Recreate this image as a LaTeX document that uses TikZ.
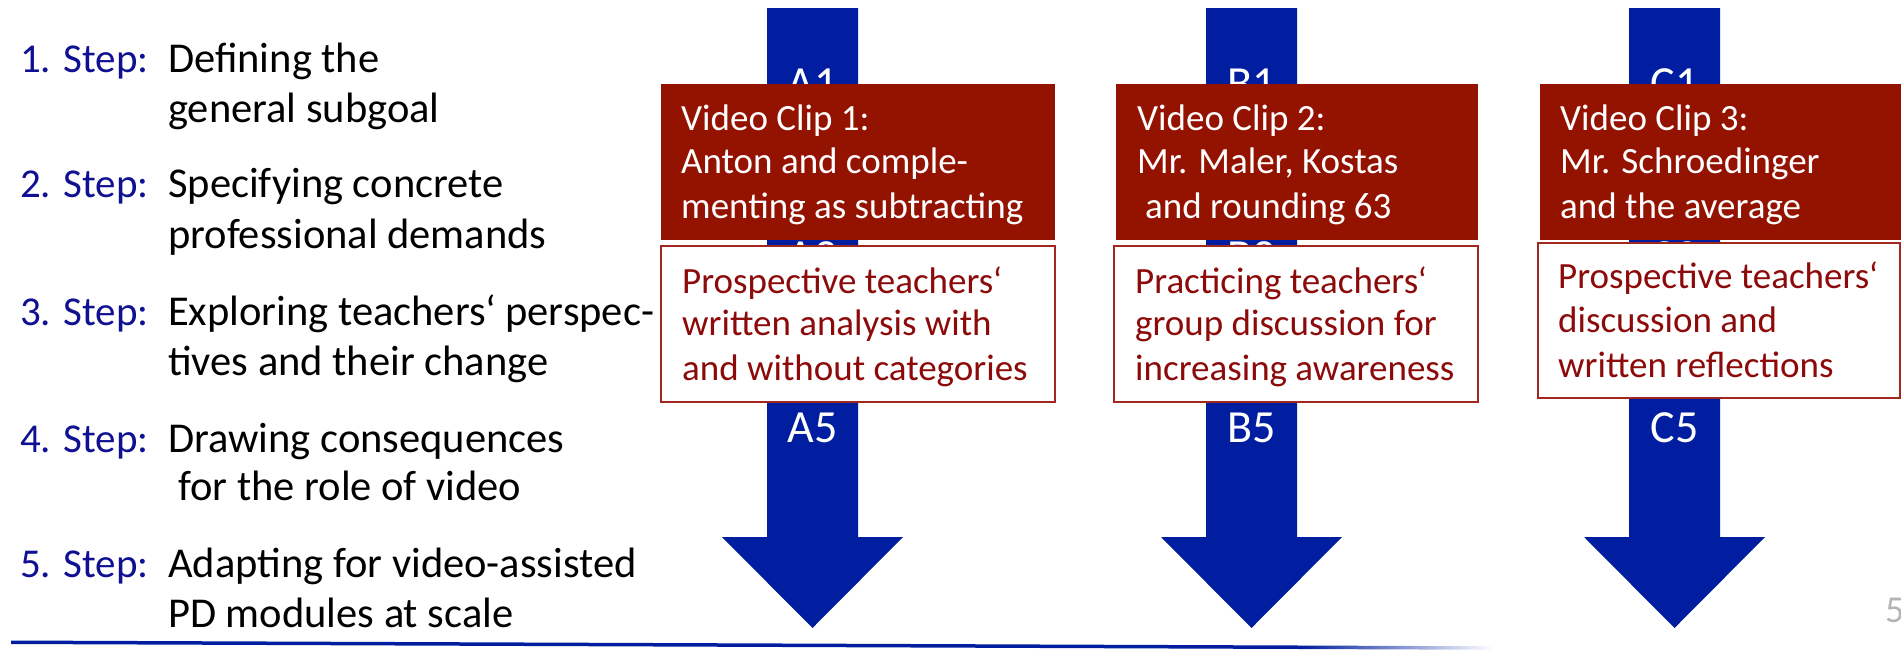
\documentclass[tikz,border=0pt]{standalone}
\usepackage{fontspec}
\setmainfont{Carlito}
\definecolor{arrowblue}{HTML}{001E9F}
\definecolor{stepblue}{HTML}{101092}
\definecolor{clipred}{HTML}{941200}
\definecolor{taskred}{HTML}{8C0A0A}
\definecolor{taskframe}{HTML}{A0281E}
\definecolor{pagegrey}{HTML}{B4B4B4}
\begin{document}
\begin{tikzpicture}[x=1pt,y=-1pt,
  steplabel/.style={anchor=base west,inner sep=0pt,text=stepblue,font=\fontsize{41}{50}\selectfont},
  steptext/.style={anchor=base west,inner sep=0pt,text=black,font=\fontsize{42.5}{50}\selectfont},
  arrowlabel/.style={anchor=base,inner sep=0pt,text=white,font=\fontsize{46}{56}\selectfont},
  clipbox/.style={fill=clipred,draw=none,inner sep=0pt},
  taskbox/.style={fill=white,draw=taskframe,line width=2pt,inner sep=0pt},
  cliptext/.style={anchor=base west,inner sep=0pt,text=white,font=\fontsize{37}{44}\selectfont},
  tasktext/.style={anchor=base west,inner sep=0pt,text=taskred,font=\fontsize{37}{44}\selectfont},
]
\useasboundingbox (0,0) rectangle (1901,651);

% the five steps
\node[steplabel] (s1) at (20,72)  {1. Step:};
\node[steptext]  (t1a) at (168,72)  {Defining the};
\node[steptext]  (t1b) at (168,122) {general subgoal};
\node[steplabel] (s2) at (20,197) {2. Step:};
\node[steptext]  (t2a) at (168,197) {Specifying concrete};
\node[steptext]  (t2b) at (168,248) {professional demands};
\node[steplabel] (s3) at (20,325) {3. Step:};
\node[steptext]  (t3a) at (168,325) {Exploring teachers‘ perspec-};
\node[steptext]  (t3b) at (168,375) {tives and their change};
\node[steplabel] (s4) at (20,452) {4. Step:};
\node[steptext]  (t4a) at (168,452) {Drawing consequences};
\node[steptext]  (t4b) at (178,500) {for the role of video};
\node[steplabel] (s5) at (20,577) {5. Step:};
\node[steptext]  (t5a) at (168,577) {Adapting for video-assisted};
\node[steptext]  (t5b) at (168,627) {PD modules at scale};

% three downward block arrows with their step labels
\foreach \c/\n in {812.5/A,1251.5/B,1674.5/C}{
  \fill[arrowblue] (\c-45.5,8) -- (\c+45.5,8) -- (\c+45.5,537) -- (\c+90.5,537)
    -- (\c,628) -- (\c-90.5,537) -- (\c-45.5,537) -- cycle;
  \node[arrowlabel] (\n1) at (\c,98)  {\n1};
  \node[arrowlabel] (\n2) at (\c,271) {\n2};
  \node[arrowlabel] (\n5) at (\c,442) {\n5};
}

% video clip boxes
\node[clipbox,minimum width=394,minimum height=156] (clipA) at (858,162) {};
\node[clipbox,minimum width=362,minimum height=156] (clipB) at (1297,162) {};
\node[clipbox,minimum width=361,minimum height=156] (clipC) at (1720.5,162) {};

% task boxes
\node[taskbox,minimum width=394,minimum height=156] (taskA) at (858,324) {};
\node[taskbox,minimum width=364,minimum height=156] (taskB) at (1296,324) {};
\node[taskbox,minimum width=362,minimum height=155] (taskC) at (1719,320.5) {};

% clip texts
\node[cliptext] (ca1) at (681,130) {Video Clip 1:};
\node[cliptext] (ca2) at (681,173) {Anton and comple-};
\node[cliptext] (ca3) at (681,218) {menting as subtracting};
\node[cliptext] (cb1) at (1137,130) {Video Clip 2:};
\node[cliptext] (cb2) at (1137,173) {Mr. Maler, Kostas};
\node[cliptext] (cb3) at (1145,218) {and rounding 63};
\node[cliptext] (cc1) at (1560,130) {Video Clip 3:};
\node[cliptext] (cc2) at (1560,173) {Mr. Schroedinger};
\node[cliptext] (cc3) at (1560,218) {and the average};

% task texts
\node[tasktext] (ta1) at (682,293) {Prospective teachers‘};
\node[tasktext] (ta2) at (682,335) {written analysis with};
\node[tasktext] (ta3) at (682,380) {and without categories};
\node[tasktext] (tb1) at (1135,293) {Practicing teachers‘};
\node[tasktext] (tb2) at (1135,335) {group discussion for};
\node[tasktext] (tb3) at (1135,380) {increasing awareness};
\node[tasktext] (tc1) at (1558,288) {Prospective teachers‘};
\node[tasktext] (tc2) at (1558,332) {discussion and};
\node[tasktext] (tc3) at (1558,377) {written reflections};

% footer rule fading out to the right, and page number
\fill[arrowblue] (11,640.5) -- (1300,645.5) -- (1300,649) -- (11,644) -- cycle;
\shade[left color=arrowblue,right color=white] (1300,645.5) -- (1493,646.3) -- (1493,649.8) -- (1300,649) -- cycle;
\node[anchor=base west,inner sep=0pt,text=pagegrey,font=\fontsize{38}{46}\selectfont] (page) at (1885,622) {5};
\end{tikzpicture}
\end{document}
